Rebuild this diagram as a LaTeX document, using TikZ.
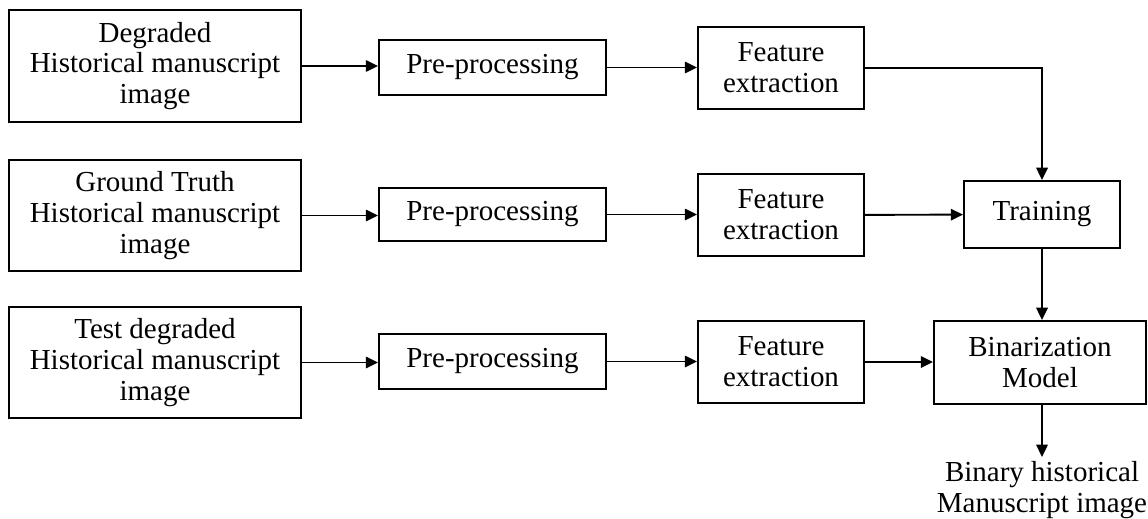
\documentclass[tikz,border=0pt]{standalone}
\usepackage{fontspec}
\setmainfont{Liberation Serif}
\usetikzlibrary{arrows.meta}
\usetikzlibrary{positioning}
\tikzset{blk/.style = {draw, line width = 1.1pt, align = center, inner sep = 0,
    font = \fontsize{16.5}{17.6}\selectfont}}
\tikzset{flow/.style = {line width = 1.1pt, -{Triangle[length = 7pt, width = 6.5pt]}}}

\begin{document}
\begin{tikzpicture}[x=0.02cm, y=0.02cm]
      \useasboundingbox (0, 0) rectangle (1148, 518);

      % inputs
      \node [blk, minimum width = 5.84cm, minimum height = 2.24cm] (src1) at (155, 452)
        {Degraded\\Historical manuscript\\image};
      \node [blk, minimum width = 5.84cm, minimum height = 2.22cm] (src2) at (155, 302.5)
        {Ground Truth\\Historical manuscript\\image};
      \node [blk, minimum width = 5.84cm, minimum height = 2.22cm] (src3) at (155, 155.5)
        {Test degraded\\Historical manuscript\\image};

      \node [blk, minimum width = 4.54cm, minimum height = 1.1cm] (pre1) at (492.5, 450.5) {Pre-processing};
      \node [blk, minimum width = 4.54cm, minimum height = 1.06cm] (pre2) at (492.5, 303.5) {Pre-processing};
      \node [blk, minimum width = 4.54cm, minimum height = 1.1cm] (pre3) at (492.5, 156.5) {Pre-processing};

      \node [blk, minimum width = 3.32cm, minimum height = 1.64cm] (feat1) at (781, 450) {Feature\\extraction};
      \node [blk, minimum width = 3.32cm, minimum height = 1.64cm] (feat2) at (781, 303) {Feature\\extraction};
      \node [blk, minimum width = 3.32cm, minimum height = 1.64cm] (feat3) at (781, 156) {Feature\\extraction};

      \node [blk, minimum width = 3.12cm, minimum height = 1.34cm] (train) at (1042, 303.5) {Training};
      \node [blk, minimum width = 4.24cm, minimum height = 1.66cm] (binmod) at (1040, 155.5) {Binarization\\Model};
      \node [blk, draw = none, anchor = north, inner sep = 2pt] (result) at (1042, 61)
        {Binary historical\\Manuscript image};

      \draw [flow] (src1) -- (pre1.west |- src1);
      \draw [flow] (src2) -- (pre2.west |- src2);
      \draw [flow] (src3) -- (pre3.west |- src3);

      \draw [flow] (pre1) -- (feat1.west |- pre1);
      \draw [flow] (pre2) -- (feat2.west |- pre2);
      \draw [flow] (pre3) -- (feat3.west |- pre3);

      \draw [flow] (feat1) -| (train.north);
      \draw [flow] (feat2) -- (train);
      \draw [flow] (feat3) -- (binmod.west |- feat3);

      \draw [flow] (train.south) -- (train.south |- binmod.north);
      \draw [flow] (binmod.south -| train) -- (result.north);
    \end{tikzpicture}
\end{document}
